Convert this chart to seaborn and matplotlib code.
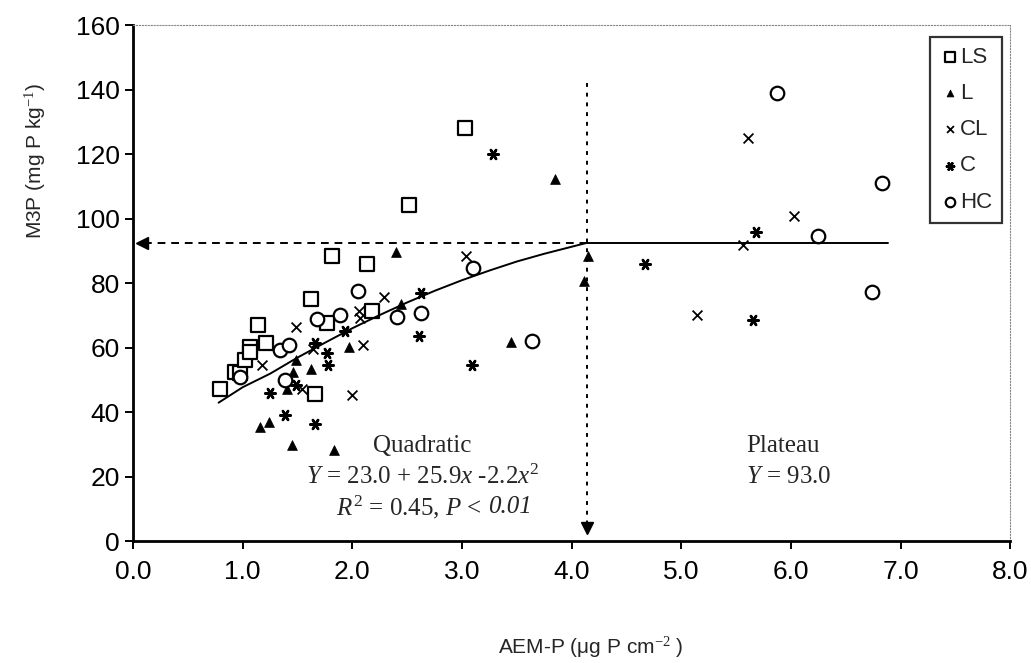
import numpy as np
import pandas as pd
import seaborn as sns
import matplotlib.pyplot as plt

# soil texture groups
ls_x = [0.79, 0.93, 0.98, 1.02, 1.07, 1.07, 1.14, 1.21, 1.62, 1.66, 1.77, 1.81, 2.13, 2.18, 2.52, 3.03]
ls_y = [47.0, 52.5, 52.0, 56.1, 60.3, 58.7, 67.0, 61.3, 75.0, 45.6, 67.6, 88.3, 86.0, 71.2, 104.3, 128.0]

l_x = [1.16, 1.24, 1.40, 1.45, 1.46, 1.49, 1.62, 1.83, 1.97, 2.40, 2.44, 3.45, 3.85, 4.15, 4.11]
l_y = [35.4, 37.0, 47.3, 29.7, 52.5, 56.1, 53.2, 28.2, 60.3, 89.8, 73.5, 61.8, 112.4, 88.3, 80.5]

cl_x = [1.18, 1.49, 1.54, 1.64, 2.00, 2.06, 2.07, 2.10, 2.29, 3.04, 5.14, 5.56, 5.61, 6.03]
cl_y = [54.6, 66.5, 47.3, 59.5, 45.3, 71.2, 69.2, 60.8, 75.6, 88.3, 70.0, 91.7, 125.1, 100.9]

c_x = [1.25, 1.39, 1.49, 1.66, 1.66, 1.77, 1.78, 1.93, 2.61, 2.63, 3.09, 3.28, 4.67, 5.65, 5.68]
c_y = [46.0, 39.2, 48.4, 36.4, 61.3, 58.2, 54.5, 65.0, 63.6, 76.9, 54.6, 120.2, 86.0, 68.4, 95.7]

hc_x = [0.98, 1.34, 1.42, 1.39, 1.68, 1.89, 2.05, 2.41, 2.63, 3.10, 3.64, 5.87, 6.25, 6.74, 6.83]
hc_y = [51.0, 59.3, 60.8, 50.0, 69.0, 70.0, 77.4, 69.4, 70.7, 84.7, 62.0, 138.9, 94.7, 77.3, 110.9]

# fitted quadratic-plateau line
curve_x = [0.78, 1.0, 1.25, 1.5, 1.75, 2.0, 2.25, 2.5, 2.75, 3.0, 3.25, 3.5, 3.75, 4.14]
curve_y = [42.9, 47.7, 51.9, 56.9, 61.5, 66.0, 70.1, 74.0, 77.6, 80.9, 83.9, 86.7, 89.1, 92.5]
joint_x = 4.14
plateau_y = 92.5
plateau_end = 6.88

sns.set_style("ticks")
plt.rcParams['font.family'] = ['Liberation Sans', 'DejaVu Sans']
plt.rcParams['mathtext.fontset'] = 'custom'
plt.rcParams['mathtext.it'] = 'Liberation Serif:italic'
plt.rcParams['mathtext.rm'] = 'Liberation Serif'

fig = plt.figure(figsize=(10.31, 6.63), dpi=100)
ax = fig.add_axes([0.129, 0.184, 0.851, 0.778])

groups = [
    ('LS', ls_x, ls_y, dict(marker='s', s=105, facecolor='white', edgecolor='black', linewidth=1.6)),
    ('L', l_x, l_y, dict(marker='^', s=50, color='black', edgecolor='black', linewidth=0.5)),
    ('CL', cl_x, cl_y, dict(marker='x', s=50, color='black', linewidth=1.3)),
    ('C', c_x, c_y, dict(marker=(6, 2, 90), s=55, color='black', linewidth=1.8)),
    ('HC', hc_x, hc_y, dict(marker='o', s=95, facecolor='white', edgecolor='black', linewidth=1.6)),
]
for name, gx, gy, kw in groups:
    d = pd.DataFrame({'x': gx, 'y': gy})
    sns.scatterplot(data=d, x='x', y='y', ax=ax, label=name, zorder=3, **kw)

# reference lines
curve = pd.DataFrame({'x': curve_x, 'y': curve_y})
sns.lineplot(data=curve, x='x', y='y', ax=ax, color='black', linewidth=1.4, zorder=4)
ax.plot([joint_x, plateau_end], [plateau_y, plateau_y], color='black', linewidth=1.4, zorder=4)
ax.plot([0.1, joint_x], [plateau_y, plateau_y], color='black', linewidth=1.4,
        linestyle=(0, (4, 3)), zorder=2)
ax.plot([joint_x, joint_x], [142, 6], color='black', linewidth=1.4,
        linestyle=(0, (2, 3)), zorder=2)
ax.plot([0.08], [plateau_y], marker='<', markersize=8, color='black', clip_on=False, zorder=5)
ax.plot([joint_x], [4], marker='v', markersize=9, color='black', clip_on=False, zorder=5)

serif = ['Liberation Serif', 'DejaVu Serif']
ax.text(2.64, 29.5, 'Quadratic', ha='center', va='center', fontsize=18, family=serif)
ax.text(2.64, 20, r'$\mathit{Y}$ = 23.0 + 25.9$\mathit{x}$ -2.2$\mathit{x}^\mathrm{2}$', ha='center',
        va='center', fontsize=18, family=serif)
ax.text(3.18, 10.5, r'$\mathit{R}^\mathrm{2}$ = 0.45, $\mathit{P}$ <', ha='right',
        va='center', fontsize=18, family=serif)
ax.text(3.24, 10.5, '0.01', ha='left', va='center', fontsize=18, family=serif, style='italic')
ax.text(5.59, 29.5, 'Plateau', ha='left', va='center', fontsize=18, family=serif)
ax.text(5.59, 20, r'$\mathit{Y}$ = 93.0', ha='left', va='center', fontsize=18, family=serif)

ax.set_xlim(0, 8)
ax.set_ylim(0, 160)
ax.set_xticks(np.arange(0, 9, 1))
ax.set_xticklabels([f'{v:.1f}' for v in range(9)])
ax.set_yticks(np.arange(0, 161, 20))
ax.tick_params(axis='both', labelsize=19, length=6, width=1.4, direction='out', colors='black')
ax.tick_params(axis='x', pad=8)
ax.set_xlabel('')
ax.set_ylabel('')

for side in ['left', 'bottom']:
    ax.spines[side].set_linewidth(2)
    ax.spines[side].set_color('black')
for side in ['top', 'right']:
    ax.spines[side].set_linewidth(0.8)
    ax.spines[side].set_linestyle(':')
    ax.spines[side].set_color('#888888')

fig.text(0.573, 0.023, 'AEM-P (μg P cm$^{-2}$ )', ha='center', va='center', fontsize=15,
         family=['Liberation Sans', 'DejaVu Sans'])
fig.text(0.034, 0.757, 'M3P (mg P kg$^{-1}$)', ha='center', va='center', fontsize=15,
         rotation=90, family=['Liberation Sans', 'DejaVu Sans'])

leg = ax.legend(loc='upper right', bbox_to_anchor=(0.991, 0.977), fontsize=16, frameon=True,
                fancybox=False, handletextpad=0.0, handlelength=0.9, labelspacing=0.68,
                borderpad=0.45, borderaxespad=0.0, markerscale=0.7)
leg.get_frame().set_edgecolor('black')
leg.get_frame().set_linewidth(1.6)

fig.savefig('out.png', dpi=100)
